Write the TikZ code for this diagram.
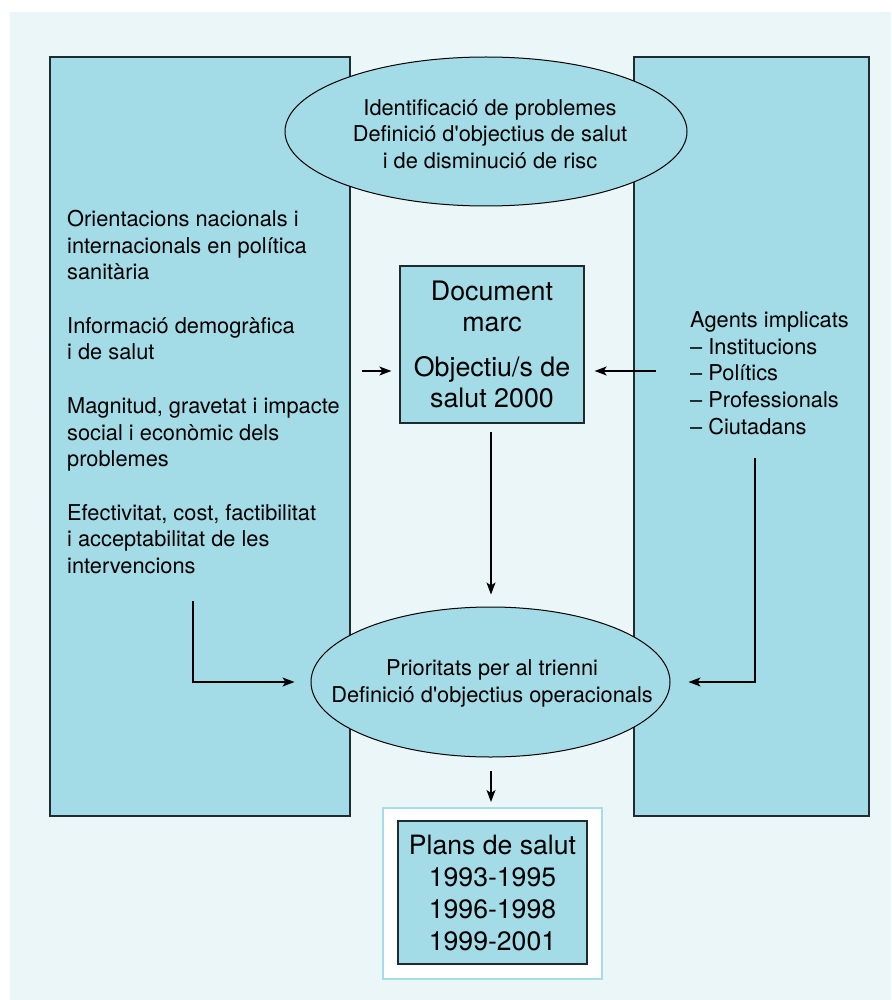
\documentclass[tikz,border=0pt]{standalone}
\usepackage{fontspec}
\setmainfont{TeX Gyre Heros}
\usetikzlibrary{arrows.meta,shapes.geometric,calc}
\definecolor{bgc}{HTML}{EBF6F9}
\definecolor{boxc}{HTML}{A3DBE6}
\definecolor{framec}{HTML}{A8DDE8}
\definecolor{edgec}{HTML}{1F2B2F}
\begin{document}
\begin{tikzpicture}[x=1pt,y=-1pt,
  panel/.style={draw=edgec,line width=1.5pt,fill=boxc,inner sep=2pt},
  oval/.style={ellipse,draw=black,line width=1pt,fill=boxc,inner sep=0pt},
  arr/.style={draw=black,line width=1.1pt,-{Stealth[length=12pt,width=9pt,inset=3pt]}},
  small/.style={font=\fontsize{21.8}{26.7}\selectfont,inner sep=0pt},
  big/.style={font=\fontsize{26.8}{31}\selectfont},
  bigp/.style={font=\fontsize{26.6}{32}\selectfont},
]
\useasboundingbox (0,0) rectangle (891,1000);
\fill[bgc] (10,12) rectangle (891,1000);
% side panels
\node[panel, minimum width=300pt, minimum height=759pt] (lp) at (200,436.5) {};
\node[panel, minimum width=235pt, minimum height=759pt] (rp) at (751.5,436.5) {};
% top ellipse
\node[oval, minimum width=402pt, minimum height=149pt] (ident) at (486,131.5) {};
\node[small, align=center] (identt) at (490,134) {Identificació de problemes\\Definició d\textquotesingle objectius de salut\\i de disminució de risc};
% left text
\node[small, align=left, anchor=west] (lt) at (67,392) {Orientacions nacionals i\\internacionals en política\\sanitària\\[26.7pt]Informació demogràfica\\i de salut\\[26.7pt]Magnitud, gravetat i impacte\\social i econòmic dels\\problemes\\[26.7pt]Efectivitat, cost, factibilitat\\i acceptabilitat de les\\intervencions};
% right text
\node[small, align=left, anchor=west] (rt) at (690,373) {Agents implicats\\– Institucions\\– Polítics\\– Professionals\\– Ciutadans};
% document box
\node[panel, line width=1.3pt, minimum width=184pt, minimum height=157pt, align=center, big] (doc) at (492,344.5) {Document\\marc\\[14pt]Objectiu/s de\\salut 2000};
% bottom ellipse
\node[oval, minimum width=359pt, minimum height=150pt] (prio) at (490.5,682) {};
\node[small, align=center] (priot) at (492,683.5) {Prioritats per al trienni\\Definició d\textquotesingle objectius operacionals};
% plans
\node[draw=framec, line width=2pt, fill=white, minimum width=219pt, minimum height=171pt] (plansout) at (492.5,893.5) {};
\node[panel, line width=1.3pt, minimum width=189pt, minimum height=143pt, align=center, bigp] (plans) at (492.5,892.5) {Plans de salut\\1993-1995\\1996-1998\\1999-2001};
% connectors
\coordinate (a1) at (362,371);
\draw[arr, shorten >=8pt] (a1) -- (a1 -| doc.west);
\coordinate (a2) at (656,371);
\draw[arr, shorten >=10pt] (a2) -- (a2 -| doc.east);
\coordinate (a5) at (491,423);
\draw[arr, shorten <=9pt, shorten >=12pt] (a5) -- (a5 |- prio.north);
\coordinate (a3) at (193,601);
\draw[arr, shorten >=16pt] (a3) |- (prio.west);
\coordinate (a4) at (755,458);
\draw[arr, shorten >=18pt] (a4) |- (prio.east);
\coordinate (a6) at (491,757);
\draw[arr, shorten <=14pt, shorten >=5pt] (a6) -- (a6 |- plansout.north);
\end{tikzpicture}
\end{document}
